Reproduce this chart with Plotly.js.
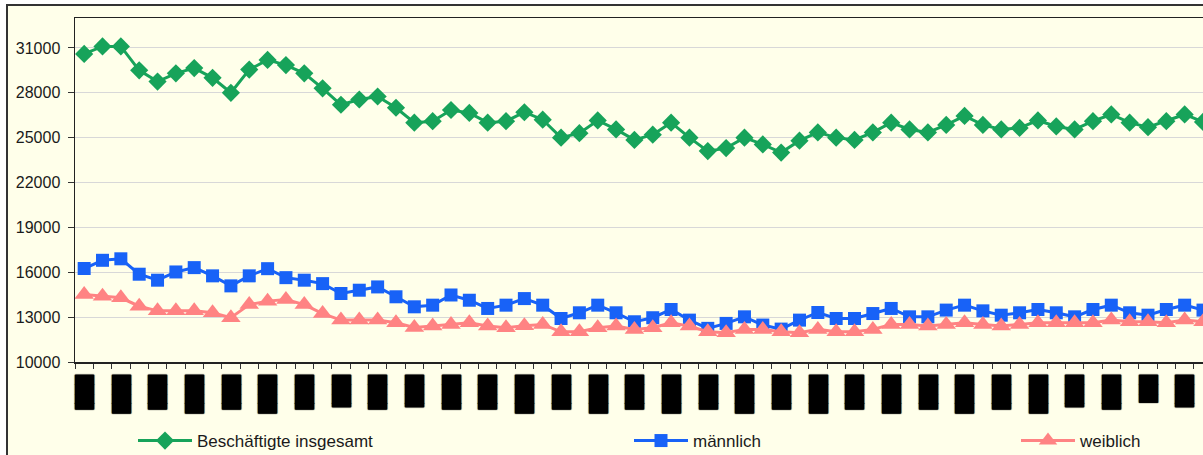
<!DOCTYPE html>
<html>
<head>
<meta charset="utf-8">
<script src="https://cdn.plot.ly/plotly-3.0.1.min.js"></script>
<style>html,body{margin:0;padding:0;background:#fff;}#chart{width:1203px;height:455px;}</style>
</head>
<body>
<div id="chart"></div>
<script>
const categories = ["01","02","03","04","05","06","07","08","09","10","11","12","13","14","15","16","17","18","19","20","21","22","23","24","25","26","27","28","29","30","31","32","33","34","35","36","37","38","39","40","41","42","43","44","45","46","47","48","49","50","51","52","53","54","55","56","57","58","59","60","61","62"];

// tick labels (redacted in the reference, drawn as solid blocks)
const tickLabels = ["███▋","████","███▋","████","███▋","████","███▋","███▍","███▋","███▍","███▋","███▋","████","███▋","████","███▋","████","███▋","████","███▋","████","███▋","████","███▋","████","███▋","████","███▍","███▋","██▉","███▍"];

const total = [30600,31100,31100,29500,28750,29300,29650,29000,28000,29550,30200,29850,29300,28300,27200,27550,27750,27000,26000,26100,26850,26650,26000,26100,26700,26200,25000,25300,26150,25550,24850,25200,26000,25000,24100,24300,25000,24550,24000,24800,25350,25000,24850,25350,26000,25550,25350,25850,26450,25850,25550,25650,26150,25750,25550,26100,26550,26000,25700,26100,26550,26050];

const male = [16250,16800,16900,15870,15470,16020,16310,15760,15090,15760,16240,15640,15470,15240,14580,14800,15020,14360,13690,13800,14480,14130,13580,13800,14240,13800,12910,13290,13800,13290,12690,12960,13510,12800,12250,12580,13020,12470,12200,12800,13310,12910,12910,13240,13580,13020,13020,13470,13800,13420,13130,13290,13510,13290,13020,13510,13800,13290,13130,13510,13800,13470];

const female = [14510,14400,14290,13730,13420,13420,13420,13290,12960,13840,14070,14180,13840,13240,12800,12800,12800,12620,12310,12400,12510,12620,12400,12290,12420,12510,12020,12020,12290,12400,12180,12290,12620,12400,12020,11960,12180,12180,12020,11960,12180,12020,12020,12180,12510,12510,12400,12510,12620,12510,12400,12510,12620,12620,12620,12620,12800,12690,12690,12620,12800,12690];

const seriesNames = ["Beschäftigte insgesamt", "männlich", "weiblich"];

const tickText = categories.map((c, i) => (i % 2 === 0 ? tickLabels[i / 2] : ""));

const traces = [
  {x: categories, y: total, name: seriesNames[0], type: "scatter", mode: "lines+markers",
   line: {color: "#17A35A", width: 3}, marker: {symbol: "diamond", size: 14, color: "#17A35A"}, legend: "legend"},
  {x: categories, y: male, name: seriesNames[1], type: "scatter", mode: "lines+markers",
   line: {color: "#1862F7", width: 3}, marker: {symbol: "square", size: 13, color: "#1862F7"}, legend: "legend2"},
  {x: categories, y: female, name: seriesNames[2], type: "scatter", mode: "lines+markers",
   line: {color: "#FF8383", width: 3}, marker: {symbol: "triangle-up", size: 17, color: "#FF8383"}, legend: "legend3"}
];

const legendBase = {orientation: "h", yref: "container", yanchor: "middle", y: (455 - 441) / 455,
  xref: "container", xanchor: "left",
  bgcolor: "rgba(0,0,0,0)", font: {family: "Liberation Sans, Arial, sans-serif", size: 17, color: "#1a1a1a"},
  itemwidth: 54, tracegroupgap: 0};

const layout = {
  width: 1203, height: 455,
  margin: {l: 75, r: 0, t: 18, b: 93, pad: 0, autoexpand: false},
  paper_bgcolor: "#ffffff",
  plot_bgcolor: "#FFFFEA",
  font: {family: "Liberation Sans, Arial, sans-serif", size: 16, color: "#1a1a1a"},
  showlegend: true,
  legend: Object.assign({}, legendBase, {x: 133 / 1203}),
  legend2: Object.assign({}, legendBase, {x: 629 / 1203}),
  legend3: Object.assign({}, legendBase, {x: 1016 / 1203}),
  xaxis: {
    type: "category", range: [-0.5, 61.0], automargin: false,
    tickmode: "array", tickvals: categories, ticktext: tickText,
    tickson: "boundaries", ticks: "outside", ticklen: 5, tickcolor: "#333", tickwidth: 1,
    tickangle: 90, ticklabelstandoff: 8,
    tickfont: {family: "DejaVu Sans Mono", size: 16, color: "#000", shadow: "0 0 1px #000, 0 0 1px #000"},
    showgrid: false, showline: true, linecolor: "#222", linewidth: 1.5, mirror: true,
    zeroline: false, fixedrange: true
  },
  yaxis: {
    range: [10000, 33000], tick0: 10000, dtick: 3000, tickmode: "linear", automargin: false,
    ticks: "outside", ticklen: 6, tickcolor: "#333", tickformat: "d", ticklabelstandoff: 4,
    showgrid: true, gridcolor: "#D8D8D8", gridwidth: 1,
    showline: true, linecolor: "#222", linewidth: 1.5,
    zeroline: false, fixedrange: true,
    tickfont: {family: "Liberation Sans, Arial, sans-serif", size: 16, color: "#1a1a1a"}
  },
  shapes: [
    {type: "rect", xref: "paper", yref: "paper", layer: "below",
     x0: (7 - 75) / 1128, x1: 1.1, y0: (362 - 470) / 344, y1: (362 - 5) / 344,
     line: {color: "#333", width: 2}, fillcolor: "#FFFFEA"}
  ]
};

Plotly.newPlot("chart", traces, layout, {displayModeBar: false, staticPlot: true});
</script>
</body>
</html>
